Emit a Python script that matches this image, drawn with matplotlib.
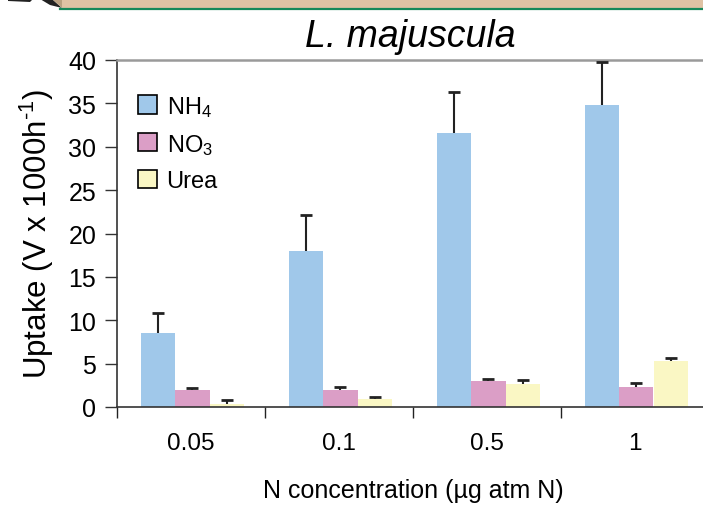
import matplotlib.pyplot as plt
import numpy as np
from matplotlib.patches import Patch, Rectangle, Polygon
from matplotlib.lines import Line2D

plt.rcParams["font.family"] = ["Liberation Sans", "DejaVu Sans"]
plt.rcParams["mathtext.fontset"] = "custom"
plt.rcParams["mathtext.rm"] = "Liberation Sans"
plt.rcParams["mathtext.it"] = "Liberation Sans:italic"

# values
categories = ["0.05", "0.1", "0.5", "1"]
nh4 = [8.5, 18.0, 31.6, 34.8]
nh4_err = [2.3, 4.1, 4.7, 5.0]
no3 = [2.0, 2.0, 2.95, 2.35]
no3_err = [0.2, 0.3, 0.3, 0.4]
urea = [0.4, 0.9, 2.7, 5.3]
urea_err = [0.4, 0.3, 0.4, 0.35]

series_names = ["NH$_4$", "NO$_3$", "Urea"]
colors = ["#A0C8EA", "#DB9EC6", "#FAF7C4"]

W, H = 703, 506
fig = plt.figure(figsize=(W / 100, H / 100), dpi=100)

# decorative banner strip at the top
fig.patches.append(Rectangle((62 / W, 1 - 9 / H), 1, 9 / H, transform=fig.transFigure,
                             facecolor="#DFC2A4", edgecolor="none"))
fig.lines.append(Line2D([60 / W, 1], [1 - 10 / H, 1 - 10 / H], transform=fig.transFigure,
                        color="#17885A", linewidth=1.6))
fig.patches.append(Polygon([(8 / W, 1), (33 / W, 1), (30 / W, 1 - 3 / H), (8 / W, 1 - 2 / H)],
                           closed=True, transform=fig.transFigure, facecolor="#222222", edgecolor="none"))
fig.patches.append(Polygon([(40 / W, 1), (52 / W, 1), (62 / W, 1 - 9 / H), (50 / W, 1 - 6 / H)],
                           closed=True, transform=fig.transFigure, facecolor="#222222", edgecolor="none"))
fig.patches.append(Polygon([(52 / W, 1), (62 / W, 1), (62 / W, 1 - 9 / H)],
                           closed=True, transform=fig.transFigure, facecolor="#B8A080", edgecolor="none"))

left, right = 117 / W, 709 / W
bottom, top = (H - 408) / H, (H - 61) / H
ax = fig.add_axes([left, bottom, right - left, top - bottom])

x = np.arange(len(categories))
width = 0.23
offsets = [-0.22, 0.01, 0.24]
values = [nh4, no3, urea]
errors = [nh4_err, no3_err, urea_err]

for vals, errs, off, col in zip(values, errors, offsets, colors):
    ax.bar(x + off, vals, width, color=col, edgecolor="none", zorder=2)
    eb = ax.errorbar(x + off, vals, yerr=[np.zeros(len(errs)), errs], fmt="none",
                     ecolor="#222222", elinewidth=1.5, capsize=4.5, capthick=2, zorder=3)
    # keep only the upper caps
    eb[1][0].set_visible(False)

ax.set_xlim(-0.5, 3.5)
ax.set_ylim(0, 40)
ax.set_yticks(range(0, 41, 5))
ax.tick_params(axis="y", direction="out", length=9, width=1, color="#333333",
               labelsize=18, pad=6)

# boundary ticks as major, category labels as minor
ax.set_xticks(np.arange(-0.5, 3.6, 1.0))
ax.set_xticklabels([])
ax.set_xticks(x, minor=True)
ax.set_xticklabels(categories, minor=True)
ax.tick_params(axis="x", which="major", direction="out", length=8, width=1, color="#222222")
ax.tick_params(axis="x", which="minor", length=0, labelsize=17.5, pad=18)

for s in ["left", "bottom"]:
    ax.spines[s].set_color("#333333")
    ax.spines[s].set_linewidth(1.2)
ax.spines["top"].set_color("#9a9a9a")
ax.spines["top"].set_linewidth(1.8)
ax.spines["right"].set_visible(False)

ax.set_ylabel("Uptake (V x 1000h$^{\\text{-1}}$)", fontsize=22.5, labelpad=9)
ax.set_xlabel("N concentration (µg atm N)", fontsize=18, labelpad=17)
fig.text(410 / W, 1 - 37 / H, "L. majuscula", fontsize=27, style="italic",
         ha="center", va="center")

handles = [Patch(facecolor=c, edgecolor="black", linewidth=1.2) for c in colors]
ax.legend(handles, series_names, loc="upper left", bbox_to_anchor=(0.02, 0.93),
          frameon=False, fontsize=17, handlelength=0.8, handleheight=0.8,
          handletextpad=0.4, labelspacing=0.55, borderaxespad=0)

fig.savefig("out.png", dpi=100)
